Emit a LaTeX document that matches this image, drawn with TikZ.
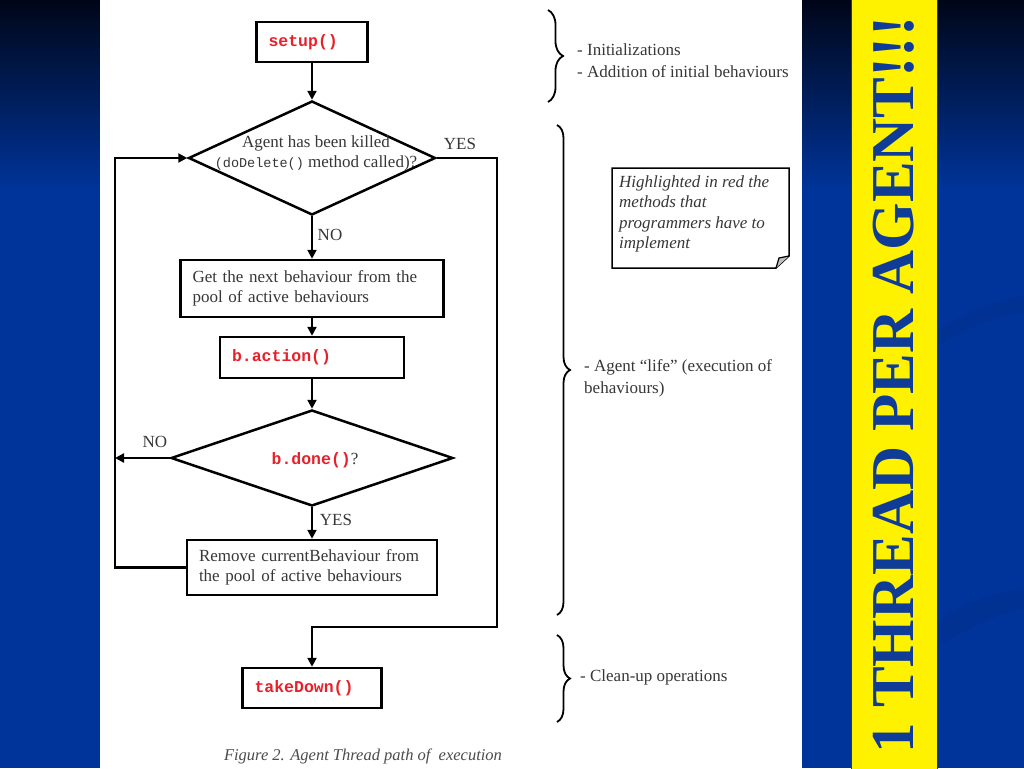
\documentclass[tikz,border=0pt]{standalone}
\usepackage{fontspec}
\setmainfont{Liberation Serif}
\newfontfamily\codefont{Liberation Mono}
\usetikzlibrary{shapes.geometric,arrows.meta,decorations.pathreplacing}
\definecolor{slideblue}{RGB}{0,52,154}
\definecolor{slidetop}{RGB}{0,6,24}
\definecolor{swoosh}{RGB}{0,44,135}
\definecolor{titleblue}{RGB}{14,60,150}
\definecolor{codered}{RGB}{232,32,42}
\definecolor{txtgray}{RGB}{55,55,55}
\definecolor{barline}{RGB}{60,60,40}
\newcommand{\codetxt}[1]{{\codefont\bfseries\fontsize{16.5}{20}\selectfont\color{codered}#1}}
\begin{document}
\begin{tikzpicture}[x=1pt,y=-1pt,
  txt/.style={font=\fontsize{17}{20}\selectfont, text=txtgray, inner sep=0pt},
  box/.style={draw=black, line width=2.5pt, inner xsep=12pt, inner ysep=0pt, align=left,
    font=\fontsize{17}{20}\selectfont, text=txtgray},
  dia/.style={draw=black, line width=2.5pt, diamond, inner sep=0pt},
  flow/.style={line width=2.5pt, draw=black},
  arr/.style={flow, -{Triangle[length=9pt,width=9pt]}},
  bracestyle/.style={line width=1.8pt, decorate, decoration={brace, amplitude=#1}}]
\useasboundingbox (0,0) rectangle (1024,768);
% slide background
\fill[slideblue] (0,0) rectangle (1024,768);
\shade[top color=slidetop, bottom color=slideblue] (0,0) rectangle (1024,190);
\fill[swoosh, opacity=0.35] (937,330) .. controls (970,310) and (1000,300) .. (1024,296) -- (1024,312) .. controls (1000,316) and (970,326) .. (937,346) -- cycle;
\fill[swoosh, opacity=0.35] (937,620) .. controls (970,600) and (1000,592) .. (1024,588) -- (1024,608) .. controls (1000,613) and (970,628) .. (937,646) -- cycle;
% white panel
\fill[white] (100,0) rectangle (802,768);
% yellow bar
\fill[yellow, draw=barline, line width=1pt] (851,-2) rectangle (937,770);
\node[rotate=90, anchor=base, inner sep=0pt, text=titleblue,
  font=\fontsize{61}{61}\selectfont\bfseries] (title) at (913,385) {1 THREAD PER AGENT!!!};

% flowchart nodes
\node[box, minimum height=40, text width=87] (setup) at (312,42) {\codetxt{setup()}};
\node[dia, minimum width=247, minimum height=114] (d1) at (312,158) {};
\node[txt, align=center] (d1t) at (316,153) {Agent has been killed\\{\codefont\fontsize{13.5}{16}\selectfont(doDelete()} method called)?};
\node[box, minimum height=57, text width=239] (next) at (312,288.5) {Get the next behaviour from the\\pool of active behaviours};
\node[box, minimum height=41, text width=160] (action) at (312,357.5) {\codetxt{b.action()}};
\node[dia, minimum width=282, minimum height=96] (d2) at (312,458) {};
\node[txt] (d2t) at (315,460) {\codetxt{b.done()}?};
\node[box, minimum height=55, text width=226] (remove) at (312,567.5) {Remove currentBehaviour from\\the pool of active behaviours};
\node[box, minimum height=40, text width=115] (takedown) at (312,688) {\codetxt{takeDown()}};

% labels
\node[txt] (yes1) at (460,144) {YES};
\node[txt] (no1) at (330,235) {NO};
\node[txt] (no2) at (155,442) {NO};
\node[txt] (yes2) at (336,520) {YES};

% connector coordinates
\coordinate (yesdown) at (497,627);
\coordinate (loop) at (115,458);

% connectors
\draw[arr] (setup.south) -- (d1.north);
\draw[arr] (d1.south) -- (d1.south |- next.north);
\draw[arr] (next.south) -- (next.south |- action.north);
\draw[arr] (action.south) -- (action.south |- d2.north);
\draw[arr] (d2.south) -- (d2.south |- remove.north);
\draw[arr] (d2.west) -- (loop);
\draw[arr] (remove.west) -| (loop) |- (d1.west);
\draw[arr] (d1.east) -| (yesdown) -| (takedown.north);

% braces
\draw[bracestyle=15pt] (548,10) -- (548,102);
\draw[bracestyle=13pt] (557,125) -- (557,615);
\draw[bracestyle=13pt] (557,635) -- (557,722);
\node[txt, anchor=west, align=left, font=\fontsize{17}{22}\selectfont] (init) at (577,61) {- Initializations\\- Addition of initial behaviours};
\node[txt, anchor=west, align=left, font=\fontsize{17}{22}\selectfont] (life) at (584,378) {- Agent \textquotedblleft life\textquotedblright\ (execution of\\behaviours)};
\node[txt, anchor=west] (clean) at (580,677) {- Clean-up operations};

% note with folded corner
\draw[line width=1.5pt, fill=white] (612,168) -- (789,168) -- (789,256) -- (776,268) -- (612,268) -- cycle;
\draw[line width=1.2pt, fill=black!25] (789,256) -- (779,258) -- (776,268);
\node[txt, anchor=west, align=left, font=\itshape\fontsize{17}{20.3}\selectfont] (note) at (619,214) {Highlighted in red the\\methods that\\programmers have to\\implement};

% caption
\node[txt, font=\itshape\fontsize{16.5}{20}\selectfont, text=black!70] (caption) at (363,756) {Figure 2. Agent Thread path of\ \ execution};
\end{tikzpicture}
\end{document}
